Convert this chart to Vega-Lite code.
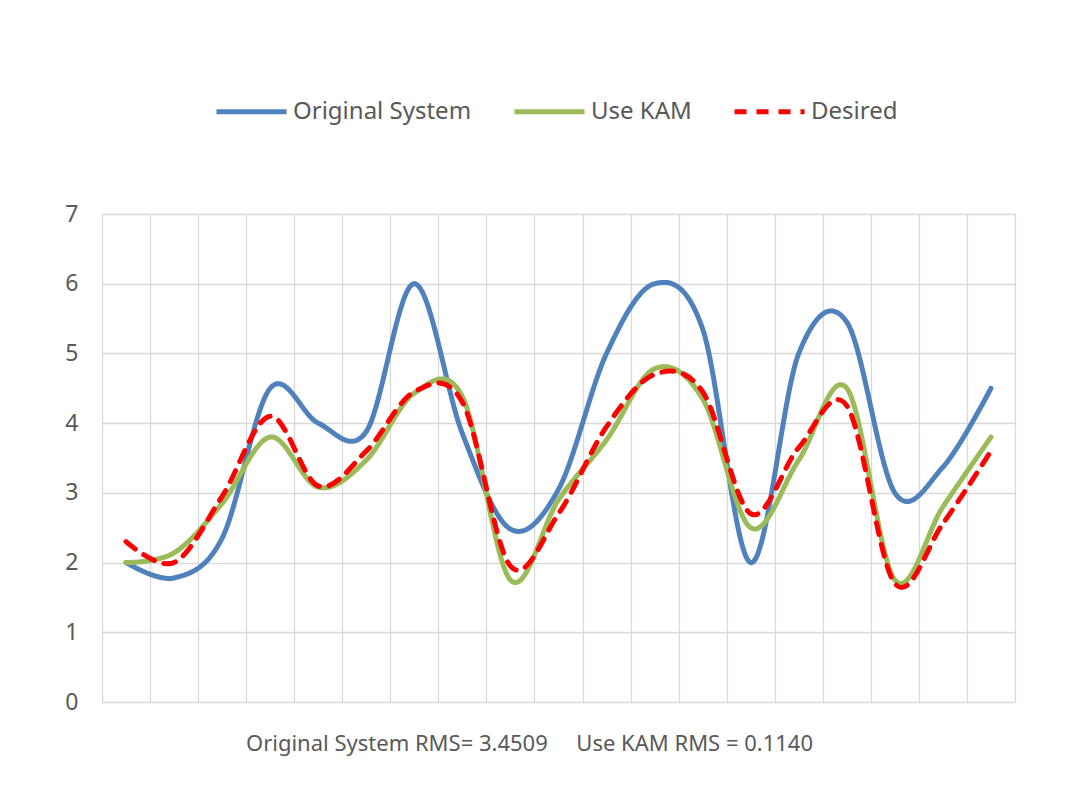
{
  "$schema": "https://vega.github.io/schema/vega-lite/v6.json",
  "width": 913,
  "height": 488,
  "autosize": {"type": "none"},
  "padding": {"left": 102, "top": 214, "right": 55, "bottom": 101},
  "background": "white",
  "config": {
    "font": "Noto Sans",
    "view": {"stroke": null}
  },
  "datasets": {
    "d": [
      {"x": 1, "series": "Original System", "y": 2.0},
      {"x": 2, "series": "Original System", "y": 1.78},
      {"x": 3, "series": "Original System", "y": 2.35},
      {"x": 4, "series": "Original System", "y": 4.5},
      {"x": 5, "series": "Original System", "y": 4.0},
      {"x": 6, "series": "Original System", "y": 3.88},
      {"x": 7, "series": "Original System", "y": 6.0},
      {"x": 8, "series": "Original System", "y": 3.85},
      {"x": 9, "series": "Original System", "y": 2.48},
      {"x": 10, "series": "Original System", "y": 3.05},
      {"x": 11, "series": "Original System", "y": 5.0},
      {"x": 12, "series": "Original System", "y": 6.0},
      {"x": 13, "series": "Original System", "y": 5.35},
      {"x": 14, "series": "Original System", "y": 2.0},
      {"x": 15, "series": "Original System", "y": 5.0},
      {"x": 16, "series": "Original System", "y": 5.45},
      {"x": 17, "series": "Original System", "y": 3.0},
      {"x": 18, "series": "Original System", "y": 3.37},
      {"x": 19, "series": "Original System", "y": 4.5},
      {"x": 1, "series": "Use KAM", "y": 2.0},
      {"x": 2, "series": "Use KAM", "y": 2.14},
      {"x": 3, "series": "Use KAM", "y": 2.85},
      {"x": 4, "series": "Use KAM", "y": 3.8},
      {"x": 5, "series": "Use KAM", "y": 3.08},
      {"x": 6, "series": "Use KAM", "y": 3.47},
      {"x": 7, "series": "Use KAM", "y": 4.43},
      {"x": 8, "series": "Use KAM", "y": 4.38},
      {"x": 9, "series": "Use KAM", "y": 1.75},
      {"x": 10, "series": "Use KAM", "y": 2.9},
      {"x": 11, "series": "Use KAM", "y": 3.76},
      {"x": 12, "series": "Use KAM", "y": 4.78},
      {"x": 13, "series": "Use KAM", "y": 4.35},
      {"x": 14, "series": "Use KAM", "y": 2.5},
      {"x": 15, "series": "Use KAM", "y": 3.47},
      {"x": 16, "series": "Use KAM", "y": 4.5},
      {"x": 17, "series": "Use KAM", "y": 1.75},
      {"x": 18, "series": "Use KAM", "y": 2.8},
      {"x": 19, "series": "Use KAM", "y": 3.8},
      {"x": 1, "series": "Desired", "y": 2.3},
      {"x": 2, "series": "Desired", "y": 2.0},
      {"x": 3, "series": "Desired", "y": 2.95},
      {"x": 4, "series": "Desired", "y": 4.1},
      {"x": 5, "series": "Desired", "y": 3.1},
      {"x": 6, "series": "Desired", "y": 3.6},
      {"x": 7, "series": "Desired", "y": 4.45},
      {"x": 8, "series": "Desired", "y": 4.3},
      {"x": 9, "series": "Desired", "y": 1.95},
      {"x": 10, "series": "Desired", "y": 2.7},
      {"x": 11, "series": "Desired", "y": 3.95},
      {"x": 12, "series": "Desired", "y": 4.7},
      {"x": 13, "series": "Desired", "y": 4.45},
      {"x": 14, "series": "Desired", "y": 2.7},
      {"x": 15, "series": "Desired", "y": 3.65},
      {"x": 16, "series": "Desired", "y": 4.25},
      {"x": 17, "series": "Desired", "y": 1.7},
      {"x": 18, "series": "Desired", "y": 2.56},
      {"x": 19, "series": "Desired", "y": 3.6}
    ]
  },
  "data": {"name": "d"},
  "mark": {"type": "line", "interpolate": "cardinal", "strokeWidth": 5, "strokeCap": "round", "strokeJoin": "round"},
  "encoding": {
    "x": {
      "field": "x",
      "type": "quantitative",
      "scale": {"domain": [0.5, 19.5], "nice": false, "zero": false},
      "axis": {
        "values": [0.5, 1.5, 2.5, 3.5, 4.5, 5.5, 6.5, 7.5, 8.5, 9.5, 10.5, 11.5, 12.5, 13.5, 14.5, 15.5, 16.5, 17.5, 18.5, 19.5],
        "labels": false,
        "ticks": false,
        "domain": false,
        "grid": true,
        "gridColor": "#d9d9d9",
        "gridWidth": 1.3,
        "title": "Original System RMS= 3.4509\u00a0\u00a0\u00a0\u00a0 Use KAM RMS = 0.1140",
        "titleFont": "Noto Sans",
        "titleFontSize": 22,
        "titleFontWeight": "normal",
        "titleColor": "#595959",
        "titleX": 427,
        "titleY": 48,
        "titleAlign": "center",
        "titleBaseline": "alphabetic"
      }
    },
    "y": {
      "field": "y",
      "type": "quantitative",
      "scale": {"domain": [0, 7], "nice": false},
      "axis": {
        "values": [0, 1, 2, 3, 4, 5, 6, 7],
        "title": null,
        "ticks": false,
        "domain": false,
        "grid": true,
        "gridColor": "#d9d9d9",
        "gridWidth": 1.3,
        "labelFontSize": 23,
        "labelColor": "#595959",
        "labelPadding": 24
      }
    },
    "color": {
      "field": "series",
      "type": "nominal",
      "scale": {"domain": ["Original System", "Use KAM", "Desired"], "range": ["#4F81BD", "#9BBB59", "#FF0000"]},
      "legend": {
        "title": null,
        "orient": "none",
        "legendX": 112,
        "legendY": -140,
        "direction": "horizontal",
        "symbolType": "stroke",
        "symbolSize": 4900,
        "symbolStrokeWidth": 5,
        "labelFontSize": 24,
        "labelColor": "#595959",
        "labelOffset": 4,
        "columnPadding": 32,
        "labelLimit": 400
      }
    },
    "strokeDash": {
      "field": "series",
      "type": "nominal",
      "scale": {"domain": ["Original System", "Use KAM", "Desired"], "range": [[1, 0], [1, 0], [12, 10]]},
      "legend": {
        "title": null,
        "orient": "none",
        "legendX": 112,
        "legendY": -140,
        "direction": "horizontal",
        "symbolType": "stroke",
        "symbolSize": 4900,
        "symbolStrokeWidth": 5,
        "labelFontSize": 24,
        "labelColor": "#595959",
        "labelOffset": 4,
        "columnPadding": 32,
        "labelLimit": 400
      }
    }
  }
}
